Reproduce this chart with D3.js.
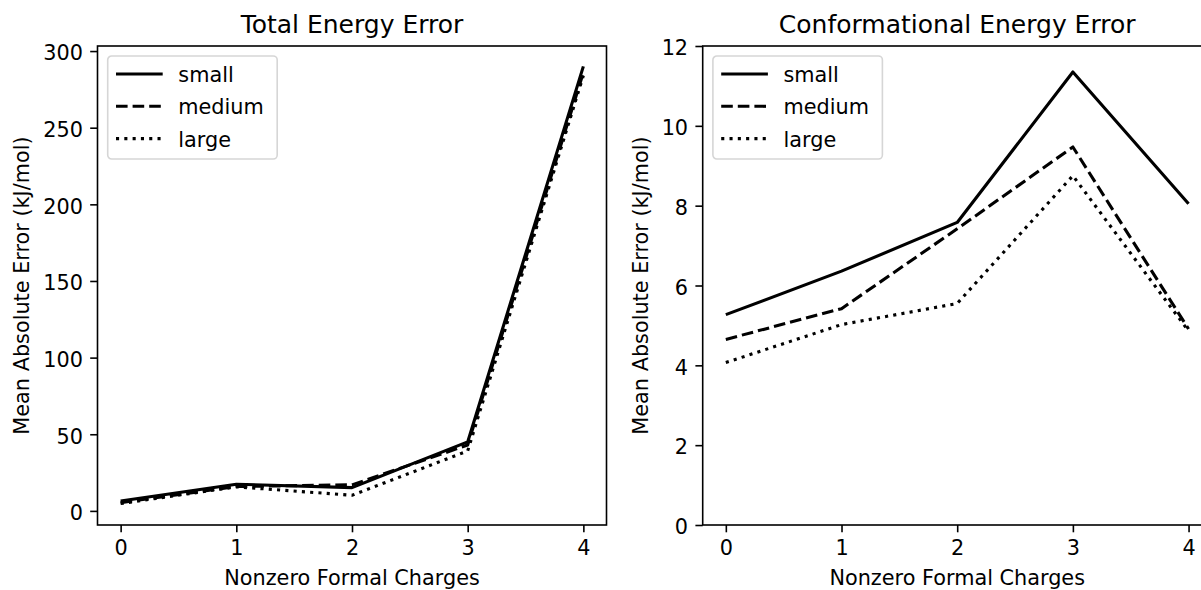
<!doctype html>
<html>
<head>
  <script src="https://cdnjs.cloudflare.com/ajax/libs/d3/7.8.5/d3.min.js"></script>
  <style>
    body { margin: 0; background: #fff; }
    svg { display: block; font-family: "DejaVu Sans", sans-serif; }
  </style>
</head>
<body>
<div id="viz"></div>
<script>
// data
var charges = [0, 1, 2, 3, 4];
var sizeNames = ["small", "medium", "large"];

var totalSmall  = [6.5, 17.4, 15.2, 45.0, 290];
var totalMedium = [5.4, 15.9, 17.0, 43.0, 286];
var totalLarge  = [4.8, 15.7, 10.2, 39.1, 284];

var confSmall  = [5.27, 6.36, 7.58, 11.35, 8.05];
var confMedium = [4.65, 5.42, 7.42, 9.47, 4.91];
var confLarge  = [4.07, 5.02, 5.55, 8.75, 4.86];

var totalTicks = [0, 50, 100, 150, 200, 250, 300];
var confTicks = [0, 2, 4, 6, 8, 10, 12];

var W = 1201, H = 590;
var fs = 20.8;
var lw = 3.1;
var dashes = { small: null, medium: "11.6,5", large: "3.1,5.2" };

var svg = d3.select("#viz").append("svg")
    .attr("width", W).attr("height", H);

function panel(opt) {
  var left = opt.left, top = 46, w = 509, h = 479;
  var g = svg.append("g").attr("transform", "translate(" + left + "," + top + ")");

  var x = d3.scaleLinear().domain([-0.2, 4.2]).range([0, w]);
  var y = d3.scaleLinear().domain(opt.yDomain).range([h, 0]);

  var xAxis = d3.axisBottom(x).tickValues(charges).tickFormat(d3.format("d"))
      .tickSize(7.3).tickPadding(7);
  var yAxis = d3.axisLeft(y).tickValues(opt.ticks).tickFormat(d3.format("d"))
      .tickSize(7.3).tickPadding(7.3);

  var gx = g.append("g").attr("transform", "translate(0," + h + ")").call(xAxis);
  var gy = g.append("g").call(yAxis);
  [gx, gy].forEach(function(a) {
    a.attr("font-family", null).attr("font-size", null);
    a.select(".domain").remove();
    a.selectAll("line").attr("stroke", "#000").attr("stroke-width", 1.6);
    a.selectAll("text").attr("fill", "#000").style("font-size", fs + "px");
  });
  gx.selectAll("text").attr("dy", "0.76em");
  gy.selectAll("text").attr("dy", "0.42em");

  // lines
  var line = d3.line().x(function(d, i) { return x(charges[i]); }).y(function(d) { return y(d); });
  opt.series.forEach(function(s, i) {
    g.append("path")
      .datum(s)
      .attr("d", line)
      .attr("fill", "none")
      .attr("stroke", "#000")
      .attr("stroke-width", lw)
      .attr("stroke-linejoin", "round")
      .attr("stroke-dasharray", dashes[sizeNames[i]]);
  });

  // frame
  g.append("rect")
    .attr("width", w).attr("height", h)
    .attr("fill", "none").attr("stroke", "#000").attr("stroke-width", 1.6);

  // legend
  var lg = g.append("g").attr("transform", "translate(10.2,10)");
  lg.append("rect")
    .attr("width", 169.5).attr("height", 103)
    .attr("rx", 4).attr("ry", 4)
    .attr("fill", "#fff").attr("fill-opacity", 0.8)
    .attr("stroke", "#d6d6d6").attr("stroke-width", 1.6);
  sizeNames.forEach(function(n, i) {
    var yy = 18 + i * 32.3;
    lg.append("line")
      .attr("x1", 8.3).attr("x2", 55).attr("y1", yy).attr("y2", yy)
      .attr("stroke", "#000").attr("stroke-width", lw)
      .attr("stroke-dasharray", dashes[n]);
    lg.append("text")
      .attr("x", 70.6).attr("y", yy).attr("dy", "0.38em")
      .style("font-size", fs + "px")
      .text(n);
  });

  // titles
  g.append("text")
    .attr("x", w / 2).attr("y", 33 - top)
    .attr("text-anchor", "middle")
    .style("font-size", "25px")
    .text(opt.title);
  g.append("text")
    .attr("x", w / 2).attr("y", 585 - top)
    .attr("text-anchor", "middle")
    .style("font-size", fs + "px")
    .text("Nonzero Formal Charges");
  g.append("text")
    .attr("transform", "translate(" + (opt.ylabelX - left) + "," + (h / 2) + ") rotate(-90)")
    .attr("text-anchor", "middle")
    .style("font-size", fs + "px")
    .text("Mean Absolute Error (kJ/mol)");
}

panel({
  left: 97.5,
  yDomain: [-9.2, 303.3],
  ticks: totalTicks,
  series: [totalSmall, totalMedium, totalLarge],
  title: "Total Energy Error",
  ylabelX: 29.3
});

panel({
  left: 702.7,
  yDomain: [0, 12],
  ticks: confTicks,
  series: [confSmall, confMedium, confLarge],
  title: "Conformational Energy Error",
  ylabelX: 647.5
});
</script>
</body>
</html>
